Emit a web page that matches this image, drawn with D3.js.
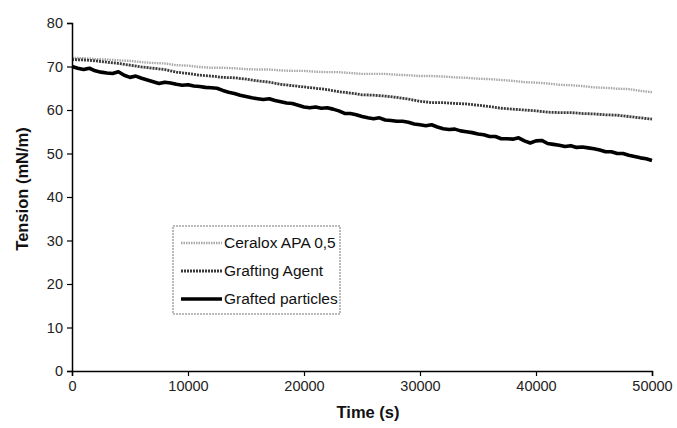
<!DOCTYPE html>
<html>
<head>
<meta charset="utf-8">
<script src="https://cdn.jsdelivr.net/npm/d3@7"></script>
<style>
  body { margin: 0; background: #fff; }
  svg { display: block; font-family: "Liberation Sans", Arial, sans-serif; }
</style>
</head>
<body>
<div id="chart"></div>
<script>
// time stamps (s): coarse readings every 1000 s, the noisy curve every 500 s
const times = d3.range(0, 50001, 1000);
const timesFine = d3.range(0, 50001, 500);

const ceralox = [72.0, 71.9, 71.7, 71.6, 71.4, 71.3, 71.0, 70.8, 70.7, 70.3,
  70.2, 69.9, 69.7, 69.7, 69.6, 69.4, 69.3, 69.3, 69.1, 69.0,
  69.0, 68.8, 68.7, 68.7, 68.5, 68.3, 68.3, 68.3, 68.1, 68.0,
  67.8, 67.8, 67.7, 67.5, 67.4, 67.2, 67.1, 66.9, 66.7, 66.4,
  66.3, 66.1, 65.8, 65.7, 65.5, 65.2, 65.1, 64.9, 64.8, 64.4, 64.1];

const graftingAgent = [71.6, 71.5, 71.3, 71.0, 70.7, 70.3, 69.9, 69.6, 69.3, 68.7,
  68.4, 68.0, 67.8, 67.5, 67.4, 67.1, 66.7, 66.4, 65.9, 65.6,
  65.3, 65.0, 64.7, 64.2, 63.9, 63.5, 63.4, 63.2, 62.9, 62.5,
  62.0, 61.7, 61.7, 61.5, 61.4, 61.1, 60.8, 60.4, 60.2, 60.0,
  59.8, 59.5, 59.4, 59.4, 59.2, 59.1, 58.9, 58.8, 58.5, 58.2, 57.9];

const graftedParticles = [70.0, 69.6, 69.3, 69.6, 69.0, 68.7, 68.5, 68.4, 68.8, 68.0,
  67.5, 67.8, 67.3, 66.9, 66.5, 66.1, 66.4, 66.2, 65.9, 65.7,
  65.8, 65.5, 65.4, 65.2, 65.1, 65.0, 64.5, 64.1, 63.8, 63.4,
  63.1, 62.8, 62.6, 62.4, 62.6, 62.2, 61.9, 61.6, 61.5, 61.1,
  60.7, 60.5, 60.7, 60.4, 60.5, 60.2, 59.8, 59.2, 59.2, 58.9,
  58.5, 58.2, 58.0, 58.2, 57.7, 57.6, 57.4, 57.4, 57.2, 56.8,
  56.6, 56.4, 56.6, 56.1, 55.7, 55.5, 55.6, 55.2, 55.0, 54.8,
  54.5, 54.3, 53.9, 53.9, 53.4, 53.4, 53.3, 53.6, 52.9, 52.4,
  52.9, 53.0, 52.3, 52.1, 51.9, 51.6, 51.8, 51.4, 51.5, 51.3,
  51.1, 50.8, 50.4, 50.4, 50.0, 50.0, 49.6, 49.3, 49.0, 48.8, 48.4];

const seriesNames = ["Ceralox APA 0,5", "Grafting Agent", "Grafted particles"];
const xTicks = [0, 10000, 20000, 30000, 40000, 50000];
const yTicks = [0, 10, 20, 30, 40, 50, 60, 70, 80];

const series = [
  { name: seriesNames[0], t: times, values: ceralox, color: "#a8a8a8", width: 2.4, dash: "1.5,1" },
  { name: seriesNames[1], t: times, values: graftingAgent, color: "#3a3a3a", width: 2.8, dash: "2,1" },
  { name: seriesNames[2], t: timesFine, values: graftedParticles, color: "#000", width: 3.6, dash: null }
];

const dimensions = {
  width: 677,
  height: 428,
  margin: { top: 23, right: 25, bottom: 57, left: 72 }
};
dimensions.boundedWidth = dimensions.width - dimensions.margin.left - dimensions.margin.right;
dimensions.boundedHeight = dimensions.height - dimensions.margin.top - dimensions.margin.bottom;

const wrapper = d3.select("#chart")
  .append("svg")
  .attr("width", dimensions.width)
  .attr("height", dimensions.height);

const bounds = wrapper.append("g")
  .attr("transform", `translate(${dimensions.margin.left},${dimensions.margin.top})`);

const xScale = d3.scaleLinear()
  .domain([0, 50000])
  .range([0, dimensions.boundedWidth]);

const yScale = d3.scaleLinear()
  .domain([0, 80])
  .range([dimensions.boundedHeight, 0]);

// draw data
series.forEach((s) => {
  const lineGenerator = d3.line()
    .x((d, i) => xScale(s.t[i]))
    .y((d) => yScale(d));

  bounds.append("path")
    .attr("d", lineGenerator(s.values))
    .attr("fill", "none")
    .attr("stroke", s.color)
    .attr("stroke-width", s.width)
    .attr("stroke-dasharray", s.dash)
    .attr("stroke-linejoin", "round");
});

// axes
const yAxis = bounds.append("g")
  .call(d3.axisLeft(yScale).tickValues(yTicks).tickSize(5).tickPadding(4));

const xAxis = bounds.append("g")
  .attr("transform", `translate(0,${dimensions.boundedHeight})`)
  .call(d3.axisBottom(xScale).tickValues(xTicks).tickSize(5).tickPadding(5).tickFormat(d3.format("d")));

[xAxis, yAxis].forEach((ax) => {
  ax.select(".domain").attr("stroke", "#000").attr("stroke-width", 1.5);
  ax.selectAll(".tick line").attr("stroke", "#000").attr("stroke-width", 1.2);
  ax.selectAll(".tick text")
    .attr("fill", "#222")
    .style("font-size", "14.5px")
    .style("font-family", "'Liberation Sans', Arial, sans-serif");
});

// axis titles
wrapper.append("text")
  .attr("x", 368)
  .attr("y", 418)
  .attr("text-anchor", "middle")
  .style("font-size", "16.5px")
  .style("font-weight", "bold")
  .attr("fill", "#111")
  .text("Time (s)");

wrapper.append("text")
  .attr("transform", "translate(28,189) rotate(-90)")
  .attr("text-anchor", "middle")
  .style("font-size", "16.5px")
  .style("font-weight", "bold")
  .attr("fill", "#111")
  .text("Tension (mN/m)");

// legend
const legend = wrapper.append("g")
  .attr("transform", "translate(173,226)");

legend.append("rect")
  .attr("width", 167)
  .attr("height", 88)
  .attr("fill", "#fff")
  .attr("stroke", "#777")
  .attr("stroke-width", 1)
  .attr("stroke-dasharray", "2,1");

series.forEach((s, i) => {
  const row = legend.append("g")
    .attr("transform", `translate(0,${17 + i * 28})`);
  row.append("line")
    .attr("x1", 8)
    .attr("x2", 49)
    .attr("stroke", s.color)
    .attr("stroke-width", s.width)
    .attr("stroke-dasharray", s.dash);
  row.append("text")
    .attr("x", 51)
    .attr("dy", "0.35em")
    .style("font-size", "15.5px")
    .attr("fill", "#111")
    .text(s.name);
});
</script>
</body>
</html>
